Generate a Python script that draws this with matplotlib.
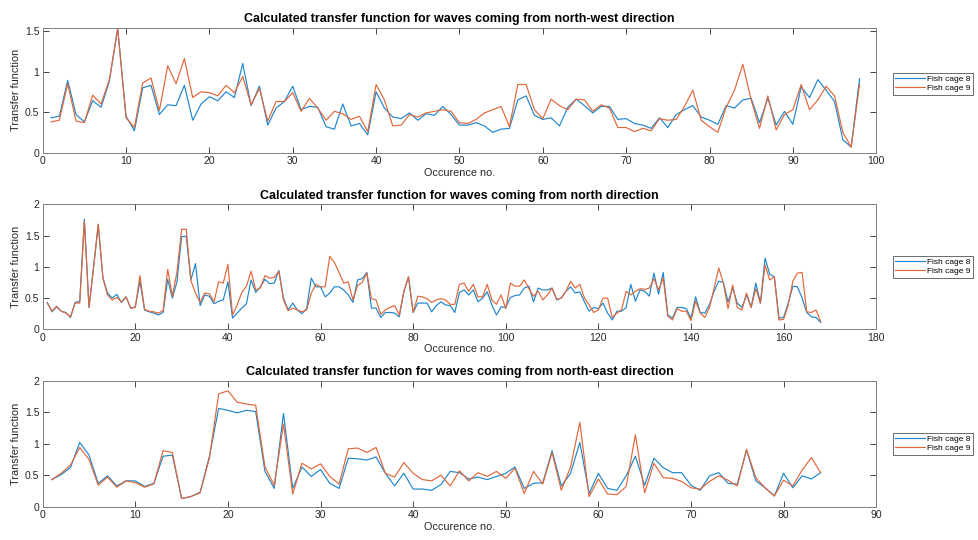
import matplotlib
matplotlib.use("Agg")
import matplotlib.pyplot as plt
from matplotlib.ticker import FuncFormatter, MultipleLocator
import numpy as np

plt.rcParams['font.family'] = ['Liberation Sans', 'DejaVu Sans']

# --- North-west direction (98 occurrences) ---
nw_cage8 = [0.43, 0.45, 0.89, 0.47, 0.38, 0.64, 0.56, 0.88, 1.53, 0.45,
            0.27, 0.80, 0.83, 0.47, 0.59, 0.58, 0.83, 0.40, 0.60, 0.69,
            0.64, 0.75, 0.68, 1.10, 0.58, 0.82, 0.34, 0.55, 0.63, 0.82,
            0.53, 0.57, 0.56, 0.32, 0.29, 0.60, 0.33, 0.36, 0.22, 0.75,
            0.55, 0.44, 0.42, 0.49, 0.40, 0.48, 0.46, 0.57, 0.47, 0.34,
            0.34, 0.37, 0.33, 0.25, 0.29, 0.30, 0.65, 0.70, 0.46, 0.41,
            0.43, 0.33, 0.56, 0.66, 0.58, 0.49, 0.57, 0.57, 0.41, 0.42,
            0.36, 0.34, 0.30, 0.43, 0.31, 0.47, 0.53, 0.58, 0.44, 0.40,
            0.35, 0.58, 0.55, 0.65, 0.67, 0.37, 0.67, 0.34, 0.51, 0.35,
            0.81, 0.68, 0.90, 0.77, 0.63, 0.16, 0.07, 0.91]
nw_cage9 = [0.38, 0.40, 0.85, 0.39, 0.37, 0.71, 0.60, 0.90, 1.53, 0.43,
            0.31, 0.86, 0.92, 0.52, 1.07, 0.85, 1.16, 0.68, 0.75, 0.74,
            0.70, 0.83, 0.74, 0.94, 0.59, 0.79, 0.39, 0.63, 0.63, 0.74,
            0.51, 0.67, 0.55, 0.40, 0.51, 0.48, 0.41, 0.45, 0.26, 0.84,
            0.65, 0.33, 0.34, 0.47, 0.44, 0.49, 0.51, 0.53, 0.51, 0.37,
            0.36, 0.41, 0.49, 0.53, 0.57, 0.32, 0.84, 0.84, 0.53, 0.42,
            0.66, 0.58, 0.53, 0.66, 0.65, 0.51, 0.59, 0.55, 0.31, 0.31,
            0.26, 0.30, 0.27, 0.42, 0.40, 0.41, 0.57, 0.77, 0.40, 0.32,
            0.25, 0.56, 0.77, 1.09, 0.65, 0.30, 0.70, 0.28, 0.47, 0.53,
            0.84, 0.53, 0.65, 0.82, 0.70, 0.25, 0.07, 0.84]

# --- North direction (168 occurrences) ---
n_cage8 = [0.43, 0.28, 0.36, 0.29, 0.27, 0.19, 0.43, 0.45, 1.76, 0.35,
           1.00, 1.68, 0.83, 0.58, 0.50, 0.56, 0.43, 0.52, 0.34, 0.36,
           0.77, 0.31, 0.28, 0.26, 0.23, 0.27, 0.80, 0.50, 0.76, 1.48,
           1.49, 0.79, 1.05, 0.38, 0.55, 0.53, 0.41, 0.45, 0.47, 0.76,
           0.18, 0.26, 0.34, 0.41, 0.79, 0.59, 0.68, 0.80, 0.73, 0.74,
           0.94, 0.50, 0.31, 0.42, 0.31, 0.25, 0.33, 0.82, 0.68, 0.68,
           0.52, 0.58, 0.68, 0.68, 0.63, 0.55, 0.43, 0.79, 0.81, 0.91,
           0.34, 0.34, 0.19, 0.27, 0.27, 0.26, 0.20, 0.60, 0.84, 0.27,
           0.42, 0.42, 0.42, 0.28, 0.38, 0.44, 0.39, 0.38, 0.27, 0.59,
           0.63, 0.55, 0.63, 0.44, 0.50, 0.60, 0.39, 0.23, 0.36, 0.35,
           0.51, 0.54, 0.55, 0.66, 0.69, 0.44, 0.66, 0.63, 0.63, 0.66,
           0.47, 0.50, 0.61, 0.68, 0.58, 0.60, 0.44, 0.29, 0.35, 0.33,
           0.42, 0.26, 0.15, 0.29, 0.29, 0.35, 0.72, 0.45, 0.63, 0.61,
           0.53, 0.90, 0.56, 0.91, 0.23, 0.18, 0.35, 0.35, 0.33, 0.18,
           0.52, 0.27, 0.26, 0.40, 0.61, 0.77, 0.75, 0.44, 0.66, 0.42,
           0.35, 0.55, 0.35, 0.74, 0.42, 1.14, 0.88, 0.84, 0.18, 0.19,
           0.42, 0.69, 0.68, 0.50, 0.27, 0.20, 0.19, 0.11]
n_cage9 = [0.42, 0.29, 0.37, 0.29, 0.26, 0.20, 0.42, 0.42, 1.73, 0.35,
           1.00, 1.68, 0.82, 0.55, 0.47, 0.51, 0.44, 0.52, 0.34, 0.35,
           0.86, 0.32, 0.29, 0.28, 0.26, 0.30, 0.96, 0.53, 0.92, 1.60,
           1.60, 0.78, 0.58, 0.43, 0.58, 0.57, 0.44, 0.76, 0.74, 1.04,
           0.23, 0.39, 0.59, 0.69, 0.93, 0.63, 0.66, 0.86, 0.82, 0.83,
           0.93, 0.47, 0.30, 0.34, 0.31, 0.28, 0.31, 0.58, 0.72, 0.68,
           0.68, 1.17, 1.07, 0.91, 0.74, 0.76, 0.47, 0.70, 0.75, 0.90,
           0.49, 0.47, 0.24, 0.31, 0.35, 0.38, 0.23, 0.61, 0.84, 0.27,
           0.53, 0.52, 0.49, 0.43, 0.47, 0.49, 0.47, 0.40, 0.40, 0.72,
           0.74, 0.61, 0.72, 0.52, 0.52, 0.72, 0.47, 0.40, 0.55, 0.33,
           0.74, 0.69, 0.69, 0.79, 0.65, 0.53, 0.61, 0.47, 0.55, 0.66,
           0.48, 0.50, 0.61, 0.77, 0.66, 0.72, 0.50, 0.39, 0.27, 0.31,
           0.50, 0.50, 0.19, 0.26, 0.31, 0.61, 0.55, 0.61, 0.65, 0.64,
           0.66, 0.81, 0.63, 0.82, 0.21, 0.15, 0.33, 0.29, 0.29, 0.14,
           0.45, 0.26, 0.19, 0.35, 0.66, 0.98, 0.74, 0.33, 0.71, 0.35,
           0.31, 0.58, 0.35, 0.65, 0.42, 1.03, 0.79, 0.84, 0.15, 0.16,
           0.39, 0.77, 0.90, 0.91, 0.28, 0.27, 0.31, 0.13]

# --- North-east direction (84 occurrences) ---
ne_cage8 = [0.43, 0.51, 0.62, 1.02, 0.82, 0.37, 0.49, 0.33, 0.41, 0.41,
            0.32, 0.37, 0.80, 0.82, 0.13, 0.16, 0.23, 0.80, 1.56, 1.53,
            1.49, 1.53, 1.51, 0.56, 0.29, 1.48, 0.29, 0.63, 0.48, 0.59,
            0.37, 0.29, 0.77, 0.76, 0.74, 0.79, 0.53, 0.33, 0.53, 0.28,
            0.28, 0.26, 0.35, 0.56, 0.54, 0.44, 0.47, 0.43, 0.48, 0.53,
            0.63, 0.29, 0.37, 0.38, 0.89, 0.33, 0.53, 1.02, 0.21, 0.53,
            0.29, 0.26, 0.49, 0.80, 0.34, 0.77, 0.62, 0.54, 0.54, 0.34,
            0.26, 0.49, 0.54, 0.37, 0.36, 0.90, 0.41, 0.30, 0.17, 0.53,
            0.30, 0.49, 0.44, 0.54]
ne_cage9 = [0.43, 0.53, 0.66, 0.94, 0.75, 0.34, 0.47, 0.31, 0.41, 0.38,
            0.31, 0.36, 0.89, 0.86, 0.13, 0.16, 0.22, 0.77, 1.79, 1.84,
            1.66, 1.63, 1.61, 0.63, 0.34, 1.31, 0.20, 0.69, 0.60, 0.68,
            0.48, 0.36, 0.92, 0.93, 0.86, 0.94, 0.53, 0.47, 0.70, 0.53,
            0.43, 0.41, 0.50, 0.33, 0.57, 0.41, 0.54, 0.48, 0.56, 0.45,
            0.61, 0.21, 0.56, 0.36, 0.86, 0.26, 0.63, 1.34, 0.16, 0.44,
            0.20, 0.19, 0.32, 1.14, 0.22, 0.69, 0.46, 0.45, 0.40, 0.30,
            0.28, 0.40, 0.49, 0.42, 0.33, 0.91, 0.46, 0.30, 0.17, 0.42,
            0.33, 0.58, 0.78, 0.54]

titles = ["Calculated transfer function for waves coming from north-west direction",
          "Calculated transfer function for waves coming from north direction",
          "Calculated transfer function for waves coming from north-east direction"]
series_labels = ["Fish cage 8", "Fish cage 9"]
x_limits = [100, 180, 90]
y_limits = [1.54, 2, 2]

BLUE = "#1f86cc"
ORANGE = "#e0673a"
AXIS_GRAY = "#262626"

fig = plt.figure(figsize=(9.79, 5.40), dpi=100)
positions = [
    [0.0436, 0.7172, 0.8514, 0.2315],
    [0.0436, 0.3901, 0.8514, 0.2316],
    [0.0436, 0.0617, 0.8514, 0.2333],
]
panels = [(nw_cage8, nw_cage9), (n_cage8, n_cage9), (ne_cage8, ne_cage9)]

fmt = FuncFormatter(lambda v, p: f"{v:g}")

for i, (c8, c9) in enumerate(panels):
    ax = fig.add_axes(positions[i])
    x = np.arange(1, len(c8) + 1)
    ax.plot(x, c8, color=BLUE, lw=0.85, label=series_labels[0])
    ax.plot(x, c9, color=ORANGE, lw=0.85, label=series_labels[1])
    ax.set_xlim(0, x_limits[i])
    ax.set_ylim(0, y_limits[i])
    ax.yaxis.set_major_locator(MultipleLocator(0.5))
    ax.xaxis.set_major_locator(MultipleLocator(10 if x_limits[i] <= 100 else 20))
    ax.yaxis.set_major_formatter(fmt)
    ax.tick_params(direction='in', length=4, width=0.6, top=True, right=True,
                   labelsize=7.5, colors=AXIS_GRAY, pad=2.5)
    for s in ax.spines.values():
        s.set_color("#7f7f7f")
        s.set_linewidth(0.7)
    ax.set_title(titles[i], fontsize=9.0, fontweight='bold', pad=4)
    ax.set_xlabel("Occurence no.", fontsize=7.8, color=AXIS_GRAY, labelpad=1)
    ax.set_ylabel("Transfer function", fontsize=7.8, color=AXIS_GRAY, labelpad=3)
    leg = ax.legend(loc='center left', bbox_to_anchor=(1.02, 0.55 if i == 0 else 0.5),
                    borderaxespad=0, fontsize=6.0, handlelength=3.5,
                    handletextpad=0.3, borderpad=0.3, labelspacing=0.15,
                    fancybox=False, framealpha=1)
    leg.get_frame().set_edgecolor("#555555")
    leg.get_frame().set_linewidth(0.6)

fig.savefig("out.png", dpi=100)
